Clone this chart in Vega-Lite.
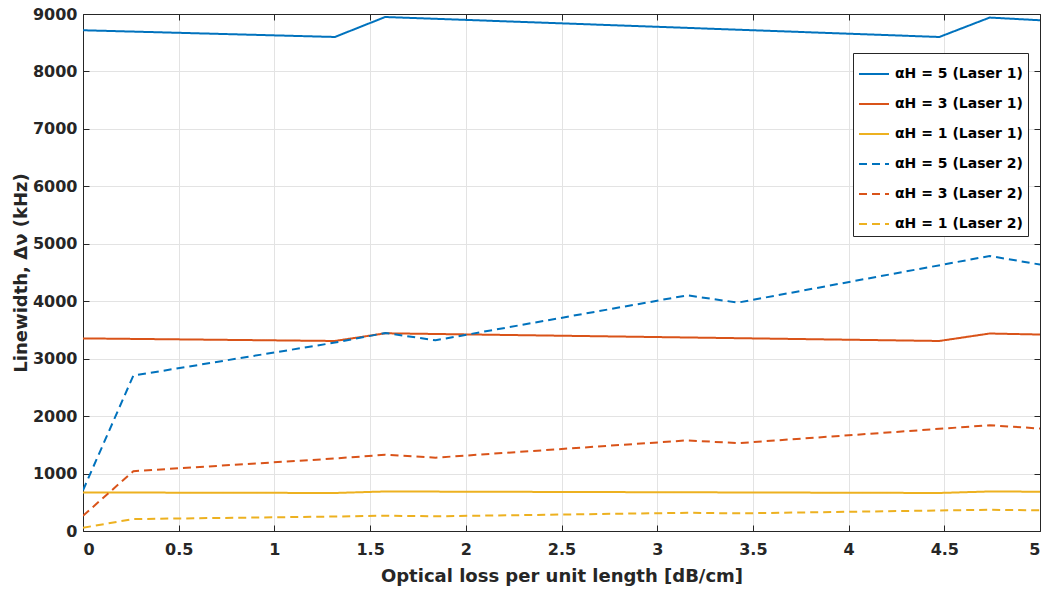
{
  "$schema": "https://vega.github.io/schema/vega-lite/v6.json",
  "width": 957,
  "height": 517,
  "autosize": {"type": "none"},
  "padding": {"left": 83, "top": 14, "right": 14, "bottom": 64},
  "background": "white",
  "config": {
    "view": {"stroke": null},
    "font": "DejaVu Sans",
    "axis": {
      "labelFont": "DejaVu Sans",
      "labelFontWeight": "bold",
      "labelFontSize": 16,
      "labelColor": "#262626",
      "titleFont": "DejaVu Sans",
      "titleFontWeight": "bold",
      "titleFontSize": 18,
      "titleColor": "#262626",
      "domainColor": "#262626",
      "domainWidth": 1,
      "tickColor": "#262626",
      "tickSize": -6,
      "tickWidth": 1,
      "gridColor": "#e3e3e3",
      "gridWidth": 1
    },
    "legend": {
      "labelFont": "DejaVu Sans",
      "labelFontWeight": "bold",
      "labelFontSize": 14,
      "labelColor": "#000000"
    }
  },
  "data": {
    "values": [
      {"x": 0, "y": 8717, "series": "αH = 5 (Laser 1)"},
      {"x": 1.316, "y": 8600, "series": "αH = 5 (Laser 1)"},
      {"x": 1.579, "y": 8948, "series": "αH = 5 (Laser 1)"},
      {"x": 4.474, "y": 8600, "series": "αH = 5 (Laser 1)"},
      {"x": 4.737, "y": 8938, "series": "αH = 5 (Laser 1)"},
      {"x": 5, "y": 8891, "series": "αH = 5 (Laser 1)"},
      {"x": 0, "y": 3353, "series": "αH = 3 (Laser 1)"},
      {"x": 1.316, "y": 3308, "series": "αH = 3 (Laser 1)"},
      {"x": 1.579, "y": 3442, "series": "αH = 3 (Laser 1)"},
      {"x": 4.474, "y": 3308, "series": "αH = 3 (Laser 1)"},
      {"x": 4.737, "y": 3438, "series": "αH = 3 (Laser 1)"},
      {"x": 5, "y": 3420, "series": "αH = 3 (Laser 1)"},
      {"x": 0, "y": 671, "series": "αH = 1 (Laser 1)"},
      {"x": 1.316, "y": 662, "series": "αH = 1 (Laser 1)"},
      {"x": 1.579, "y": 688, "series": "αH = 1 (Laser 1)"},
      {"x": 4.474, "y": 662, "series": "αH = 1 (Laser 1)"},
      {"x": 4.737, "y": 688, "series": "αH = 1 (Laser 1)"},
      {"x": 5, "y": 684, "series": "αH = 1 (Laser 1)"},
      {"x": 0, "y": 708, "series": "αH = 5 (Laser 2)"},
      {"x": 0.263, "y": 2705, "series": "αH = 5 (Laser 2)"},
      {"x": 1.316, "y": 3280, "series": "αH = 5 (Laser 2)"},
      {"x": 1.579, "y": 3447, "series": "αH = 5 (Laser 2)"},
      {"x": 1.842, "y": 3320, "series": "αH = 5 (Laser 2)"},
      {"x": 3.158, "y": 4103, "series": "αH = 5 (Laser 2)"},
      {"x": 3.421, "y": 3976, "series": "αH = 5 (Laser 2)"},
      {"x": 4.737, "y": 4788, "series": "αH = 5 (Laser 2)"},
      {"x": 5, "y": 4638, "series": "αH = 5 (Laser 2)"},
      {"x": 0, "y": 265, "series": "αH = 3 (Laser 2)"},
      {"x": 0.263, "y": 1042, "series": "αH = 3 (Laser 2)"},
      {"x": 1.316, "y": 1262, "series": "αH = 3 (Laser 2)"},
      {"x": 1.579, "y": 1328, "series": "αH = 3 (Laser 2)"},
      {"x": 1.842, "y": 1277, "series": "αH = 3 (Laser 2)"},
      {"x": 3.158, "y": 1578, "series": "αH = 3 (Laser 2)"},
      {"x": 3.421, "y": 1529, "series": "αH = 3 (Laser 2)"},
      {"x": 4.737, "y": 1841, "series": "αH = 3 (Laser 2)"},
      {"x": 5, "y": 1784, "series": "αH = 3 (Laser 2)"},
      {"x": 0, "y": 57, "series": "αH = 1 (Laser 2)"},
      {"x": 0.263, "y": 208, "series": "αH = 1 (Laser 2)"},
      {"x": 1.316, "y": 252, "series": "αH = 1 (Laser 2)"},
      {"x": 1.579, "y": 266, "series": "αH = 1 (Laser 2)"},
      {"x": 1.842, "y": 256, "series": "αH = 1 (Laser 2)"},
      {"x": 3.158, "y": 317, "series": "αH = 1 (Laser 2)"},
      {"x": 3.421, "y": 307, "series": "αH = 1 (Laser 2)"},
      {"x": 4.737, "y": 370, "series": "αH = 1 (Laser 2)"},
      {"x": 5, "y": 359, "series": "αH = 1 (Laser 2)"}
    ]
  },
  "layer": [
    {
      "mark": {"type": "line", "strokeWidth": 2, "clip": true},
      "encoding": {
        "x": {
          "field": "x", "type": "quantitative",
          "scale": {"domain": [0, 5], "nice": false, "zero": false},
          "axis": {
            "orient": "bottom",
            "values": [0, 0.5, 1, 1.5, 2, 2.5, 3, 3.5, 4, 4.5, 5],
            "format": "~f",
            "title": "Optical loss per unit length [dB/cm]",
            "labelPadding": 16,
            "titlePadding": 10,
            "grid": true
          }
        },
        "y": {
          "field": "y", "type": "quantitative",
          "scale": {"domain": [0, 9000], "nice": false},
          "axis": {
            "orient": "left",
            "values": [0, 1000, 2000, 3000, 4000, 5000, 6000, 7000, 8000, 9000],
            "format": "d",
            "title": "Linewidth, Δν (kHz)",
            "labelPadding": 12,
            "titlePadding": 2,
            "grid": true
          }
        },
        "color": {
          "field": "series", "type": "nominal",
          "scale": {
            "domain": ["αH = 5 (Laser 1)", "αH = 3 (Laser 1)", "αH = 1 (Laser 1)", "αH = 5 (Laser 2)", "αH = 3 (Laser 2)", "αH = 1 (Laser 2)"],
            "range": ["#0072BD", "#D95319", "#EDB120", "#0072BD", "#D95319", "#EDB120"]
          },
          "legend": {
            "title": null,
            "orient": "none",
            "legendX": 770,
            "legendY": 39,
            "symbolType": "stroke",
            "symbolStrokeWidth": 2,
            "symbolSize": 900,
            "strokeColor": "#262626",
            "fillColor": "white",
            "padding": 5,
            "rowPadding": 7,
            "labelOffset": 5
          }
        },
        "strokeDash": {
          "field": "series", "type": "nominal",
          "scale": {
            "domain": ["αH = 5 (Laser 1)", "αH = 3 (Laser 1)", "αH = 1 (Laser 1)", "αH = 5 (Laser 2)", "αH = 3 (Laser 2)", "αH = 1 (Laser 2)"],
            "range": [[1, 0], [1, 0], [1, 0], [8, 5], [8, 5], [8, 5]]
          },
          "legend": {
            "title": null,
            "orient": "none",
            "legendX": 770,
            "legendY": 39,
            "symbolType": "stroke",
            "symbolStrokeWidth": 2,
            "symbolSize": 900,
            "strokeColor": "#262626",
            "fillColor": "white",
            "padding": 5,
            "rowPadding": 7,
            "labelOffset": 5
          }
        }
      }
    },
    {
      "mark": {"type": "line", "opacity": 0},
      "encoding": {
        "x": {
          "field": "x", "type": "quantitative",
          "axis": {
            "orient": "top",
            "values": [0, 0.5, 1, 1.5, 2, 2.5, 3, 3.5, 4, 4.5, 5],
            "labels": false,
            "title": null,
            "grid": false
          }
        },
        "y": {
          "field": "y", "type": "quantitative",
          "axis": {
            "orient": "right",
            "values": [0, 1000, 2000, 3000, 4000, 5000, 6000, 7000, 8000, 9000],
            "labels": false,
            "title": null,
            "grid": false
          }
        },
        "detail": {"field": "series", "type": "nominal"}
      }
    }
  ],
  "resolve": {"axis": {"x": "independent", "y": "independent"}}
}
